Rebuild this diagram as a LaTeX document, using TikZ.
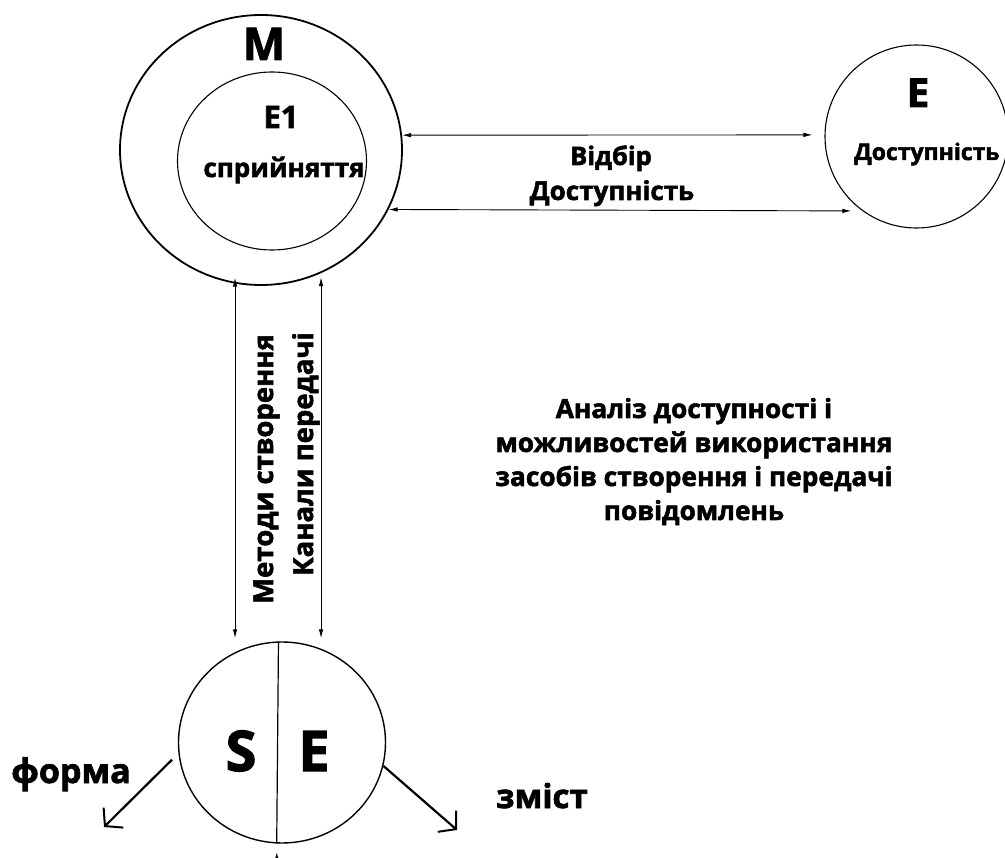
\documentclass[tikz,border=0pt]{standalone}
\usepackage{fontspec}
\setmainfont{Open Sans}[BoldFeatures={FakeBold=2}]
\usetikzlibrary{arrows.meta,shapes.geometric}
\begin{document}
\begin{tikzpicture}[x=1pt,y=-1pt,
  ring/.style={draw, ellipse, inner sep=0pt},
  txt/.style={inner sep=0pt, anchor=base},
  fs/.style={font=\bfseries\fontsize{#1}{#1}\selectfont},
  smallarr/.style={{Latex[length=9pt,width=4.5pt]}-{Latex[length=9pt,width=4.5pt]}, line width=0.9pt},
  barb/.style={-{Straight Barb[length=12pt,width=28pt,line width=2pt]}, line width=2.2pt}
]
\path[use as bounding box] (0,0) rectangle (1005,858);
\clip (0,0) rectangle (1005,858);

% circles
\node[ring, line width=1.8pt, minimum width=282pt, minimum height=270pt] (Mout) at (261,150) {};
\node[ring, line width=1.1pt, minimum width=189pt, minimum height=178pt] (Min) at (272,161) {};
\node[ring, line width=1.1pt, minimum width=183pt, minimum height=183pt] (Eright) at (916.5,136.5) {};
\node[ring, line width=1.4pt, minimum width=207pt, minimum height=201pt] (SE) at (282,742.5) {};

% texts
\node[txt, fs=45] (tM) at (264,60) {M};
\node[txt, fs=31] (tE1) at (281,128) {E1};
\node[txt, fs=26] (tspr) at (284,177) {сприйняття};
\node[txt, fs=25.5] (tvid) at (611,165) {Відбір};
\node[txt, fs=26] (tdost) at (612,200) {Доступність};
\node[txt, fs=40] (tE) at (918,107) {E};
\node[txt, fs=23, anchor=base west] (tdost2) at (854,160) {Доступність};
\node[txt, fs=56] (tS) at (241,771) {S};
\node[txt, fs=56] (tE2) at (314,771) {E};
\node[txt, fs=34] (tforma) at (71,783) {форма};
\node[txt, fs=33] (tzmist) at (542,808) {зміст};
\node[txt, fs=27.5, rotate=90] (tmet) at (273,469) {Методи створення};
\node[txt, fs=27.5, rotate=90] (tkan) at (313,454) {Канали передачі};
\node[txt, font=\bfseries\fontsize{26.3}{34}\selectfont, align=center] (tpar) at (694,520)
  {Аналіз доступності і\\можливостей використання\\засобів створення і передачі\\повідомлень};

% connectors
\draw[smallarr, shorten >=12pt] (Mout.6) -- (Eright.179);
\draw[smallarr, shorten >=11pt] (Mout.-25.5) -- (Eright.234);
\draw[smallarr, shorten <=-6pt, shorten >=3pt] (Mout.259.35) -- (Mout.259.35 |- SE.north);
\draw[smallarr, shorten <=4pt, shorten >=3pt] (Mout.296.15) -- (Mout.296.15 |- SE.north);

\draw[line width=1.2pt] (SE.92.85) -- (SE.267.15);
\coordinate (btm) at (277,890);
\draw[-{Latex[length=10pt,width=7pt]}, line width=1.2pt, shorten >=9pt] (btm) -- (SE.267.15);

\coordinate (fEnd) at (104,827);
\coordinate (zEnd) at (457,830);
\draw[barb, shorten <=9pt] (SE.186) -- (fEnd);
\draw[barb] (SE.-13.76) -- (zEnd);
\end{tikzpicture}
\end{document}
